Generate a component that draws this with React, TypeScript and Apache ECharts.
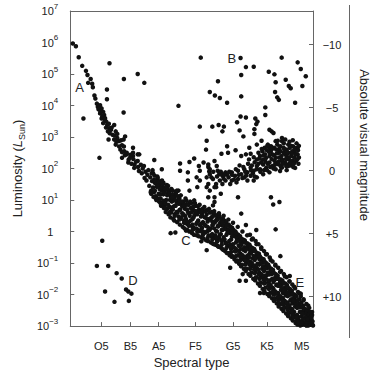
import React, { useEffect, useRef } from "react";
import * as echarts from "echarts";

// x: position along the spectral sequence (spectral index), y: log10(L / L_sun)
const spectralTickValues = [33, 64, 94, 133, 173, 209, 246];
const spectralTickLabels = ["O5", "B5", "A5", "F5", "G5", "K5", "M5"];
const logLumTicksMin = -3;
const logLumTicksMax = 7;
const magnitudeTicks = [-10, -5, 0, 5, 10];
const sunAbsMag = 4.83;

const upperMainSequence = [
  [2.7, 5.97], [6, 5.88], [9, 5.53], [12.7, 5.26], [16.7, 5.1], [18.3, 4.97], [21.7, 4.84], [19, 4.72], [23.3, 4.69], [24, 4.58], [25.7, 4.32], [26.7, 4.22],
  [28.3, 4.06], [31.7, 4.01], [29.3, 3.96], [33.3, 3.91], [35, 3.8], [31.7, 3.75], [36, 3.7], [33.3, 3.59], [36.7, 3.54], [38.3, 3.49], [39.3, 3.38], [35, 3.44],
  [41.7, 3.28], [43.3, 3.23], [46.7, 3.38], [40, 3.18], [45, 3.07], [48.3, 3.18], [50, 2.97], [46.7, 2.92], [51.7, 2.87], [48.3, 2.76], [55, 2.74], [53.3, 2.6],
  [57.3, 2.55], [58.3, 3.02], [56.7, 2.92], [60, 2.45], [63.3, 2.34], [55, 2.34], [66.7, 2.4], [61.7, 2.19], [68.3, 2.13], [71.7, 2.24], [73.3, 2.45], [66.7, 2.66], [78.3, 2.08],
  [30, 3.88], [32, 3.82], [34, 3.66], [37, 3.6], [38, 3.3], [41, 3.42], [42, 3.12], [44, 3.3], [47, 3.05], [49, 2.85], [50, 3.1], [52, 2.7], [54, 2.9], [55, 2.52], [57, 2.7], [58, 2.42],
  [60, 2.5], [62, 2.28], [64, 2.44], [65, 2.15], [67, 2.3], [68, 2.02], [70, 2.22], [72, 2.05], [73, 1.92], [75, 2.12], [76, 1.85], [77, 2.0], [79, 1.7], [80, 1.9], [81, 1.62], [82, 1.8],
];

const mainSequence = [
  [83, 1.95], [84, 1.45], [85, 1.72], [86, 1.3], [87, 1.6], [88, 1.85],
  [89, 1.25], [90, 1.55], [91, 1.12], [92, 1.42], [93, 1.7], [94, 1.2],
  [95, 1.48], [96, 1.05], [97, 1.3], [98, 0.92], [99, 1.18], [99, 1.55],
  [100, 0.85], [101, 1.32], [102, 1.0], [103, 0.72], [104, 1.22], [104, 1.45],
  [106, 0.78], [107, 1.1], [107, 0.6], [108, 0.95], [109, 1.3], [109, 0.7],
  [110, 1.05], [111, 0.55], [112, 0.82], [112, 1.2], [113, 0.62], [114, 0.95],
  [115, 0.48], [116, 1.05], [117, 0.7], [117, 0.4], [118, 0.88], [119, 0.58],
  [120, 0.95], [121, 0.35], [122, 0.72], [122, 0.5], [123, 0.85], [124, 0.25],
  [125, 0.62], [126, 0.88], [126, 0.3], [127, 0.5], [128, 0.75], [129, 0.18],
  [130, 0.4], [131, 0.68], [131, 0.12], [132, 0.52], [133, 0.82], [134, 0.25],
  [135, 0.55], [136, 0.05], [136, 0.35], [137, 0.7], [138, 0.2], [139, 0.48],
  [140, 0.12], [141, 0.62], [141, 0.3], [142, -0.05], [143, 0.45], [144, 0.18],
  [145, 0.55], [146, 0.02], [146, 0.32], [147, -0.12], [148, 0.4], [149, 0.1],
  [150, 0.45], [151, -0.08], [151, 0.2], [152, 0.58], [153, -0.2], [154, 0.3],
  [155, 0.02], [156, 0.4], [156, -0.25], [157, 0.18], [158, 0.52], [159, -0.1],
  [160, 0.3], [161, -0.3], [161, 0.05], [162, 0.42], [163, -0.18], [164, 0.15],
  [165, -0.35], [166, 0.25], [166, -0.1], [167, 0.05], [168, -0.45], [169, 0.18],
  [170, -0.05], [171, -0.55], [171, -0.25], [172, 0.12], [173, -0.4], [174, -0.12],
  [175, -0.62], [176, -0.08], [176, -0.35], [177, -0.2], [178, -0.75], [179, -0.45],
  [180, -0.2], [181, -0.7], [181, -0.4], [182, -0.88], [183, -0.3], [184, -0.58],
  [185, -0.82], [186, -0.35], [186, -0.62], [187, -1.0], [188, -0.48], [189, -0.75],
  [190, -0.5], [191, -0.95], [191, -0.68], [192, -1.12], [193, -0.6], [194, -0.85],
  [195, -1.1], [196, -0.62], [196, -0.9], [197, -1.28], [198, -0.75], [199, -1.02],
  [200, -0.8], [201, -1.3], [201, -1.05], [202, -1.45], [203, -0.9], [204, -1.18],
  [205, -1.45], [206, -0.95], [206, -1.25], [207, -1.62], [208, -1.08], [209, -1.38],
  [210, -1.15], [211, -1.6], [211, -1.35], [212, -1.8], [213, -1.25], [214, -1.52],
  [215, -1.78], [216, -1.3], [216, -1.6], [217, -1.98], [218, -1.45], [219, -1.7],
  [220, -1.5], [221, -1.95], [221, -1.72], [222, -2.15], [223, -1.6], [224, -1.85],
  [225, -2.1], [226, -1.65], [226, -1.95], [227, -2.3], [228, -1.78], [229, -2.02],
  [230, -1.8], [231, -2.25], [231, -2.05], [232, -2.45], [233, -1.9], [234, -2.18],
  [235, -2.45], [236, -2.0], [236, -2.28], [237, -2.62], [238, -2.1], [239, -2.38],
  [240, -2.2], [241, -2.65], [241, -2.42], [242, -2.8], [243, -2.3], [244, -2.55],
  [245, -2.85], [246, -2.4], [246, -2.68], [247, -2.95], [248, -2.5], [249, -2.75],
  [250, -2.6], [251, -2.95], [251, -2.82], [252, -2.7], [253, -2.98], [254, -2.88],
  [255, -2.96], [256, -2.8], [257, -2.92],
  [88, 1.4], [89, 1.65], [90, 1.3], [91, 1.52],
  [93, 1.45], [94, 1.05], [95, 1.35], [96, 1.18],
  [98, 1.4], [99, 0.98], [100, 1.25], [101, 0.9],
  [103, 1.15], [104, 0.85], [105, 1.28], [106, 1.0],
  [108, 0.7], [109, 1.05], [110, 0.8], [111, 1.12],
  [113, 0.92], [114, 0.6], [115, 1.0], [116, 0.68],
  [118, 0.45], [119, 0.8], [120, 0.55], [121, 0.85],
  [123, 0.4], [124, 0.7], [125, 0.3], [126, 0.58],
  [128, 0.35], [129, 0.62], [130, 0.22], [131, 0.45],
  [133, 0.58], [134, 0.1], [135, 0.3], [136, 0.62],
  [138, 0.02], [139, 0.25], [140, 0.52], [141, 0.0],
  [143, 0.22], [144, -0.02], [145, 0.42], [146, 0.15],
  [148, 0.05], [149, 0.38], [150, -0.15], [151, 0.32],
  [153, 0.1], [154, -0.12], [155, 0.35], [156, 0.0],
  [158, -0.2], [159, 0.25], [160, -0.08], [161, 0.2],
  [163, 0.2], [164, -0.25], [165, 0.08], [166, -0.38],
  [168, 0.05], [169, -0.3], [170, -0.42], [171, 0.0],
  [173, -0.05], [174, -0.5], [175, -0.15], [176, -0.55],
  [178, -0.18], [179, -0.62], [180, -0.3], [181, -0.55],
  [183, -0.75], [184, -0.32], [185, -0.5], [186, -0.8],
  [188, -0.9], [189, -0.45], [190, -0.82], [191, -0.58],
  [193, -1.0], [194, -0.62], [195, -0.78], [196, -1.08],
  [198, -1.15], [199, -0.8], [200, -1.2], [201, -0.88],
  [203, -1.35], [204, -0.98], [205, -1.1], [206, -1.4],
  [208, -1.5], [209, -1.12], [210, -1.3], [211, -1.55],
  [213, -1.7], [214, -1.35], [215, -1.5], [216, -1.82],
  [218, -1.9], [219, -1.5], [220, -1.68], [221, -2.0],
  [223, -2.05], [224, -1.7], [225, -1.8], [226, -2.12],
  [228, -2.2], [229, -1.85], [230, -1.95], [231, -2.3],
  [233, -2.35], [234, -2.0], [235, -2.15], [236, -2.48],
  [238, -2.55], [239, -2.2], [240, -2.3], [241, -2.68],
  [243, -2.72], [244, -2.4], [245, -2.55], [246, -2.85],
  [248, -2.9], [249, -2.6], [250, -2.72], [251, -2.98],
  [253, -2.8], [254, -2.95], [256, -2.7], [258, -2.98],
  [85.5, 1.25], [86.5, 1.85], [88.5, 1.1], [89.5, 1.78],
  [90.5, 1.62], [91.5, 1.0], [93.5, 1.58], [94.5, 0.95],
  [95.5, 1.6], [96.5, 0.82], [98.5, 1.5], [99.5, 0.75],
  [100.5, 1.38], [101.5, 0.62], [103.5, 1.35], [104.5, 0.55],
  [105.5, 1.2], [106.5, 0.45], [108.5, 1.18], [109.5, 0.4],
  [110.5, 0.35], [111.5, 1.0], [113.5, 0.3], [114.5, 1.12],
  [115.5, 0.88], [116.5, 0.22], [118.5, 0.95], [119.5, 0.15],
  [120.5, 0.8], [121.5, 0.1], [123.5, 0.98], [124.5, 0.05],
  [125.5, 0.85], [126.5, 0.0], [128.5, 0.9], [129.5, -0.05],
  [130.5, 0.78], [131.5, -0.1], [133.5, 0.65], [134.5, -0.12],
  [135.5, 0.8], [136.5, -0.15], [138.5, 0.62], [139.5, -0.18],
  [140.5, 0.72], [141.5, -0.22], [143.5, 0.65], [144.5, -0.28],
  [145.5, 0.68], [146.5, -0.3], [148.5, 0.6], [149.5, -0.35],
  [150.5, 0.62], [151.5, -0.38], [153.5, 0.55], [154.5, -0.42],
  [155.5, 0.5], [156.5, -0.45], [158.5, 0.48], [159.5, -0.5],
  [160.5, 0.4], [161.5, -0.55], [163.5, 0.35], [164.5, -0.62],
  [165.5, 0.3], [166.5, -0.68], [168.5, 0.22], [169.5, -0.75],
  [170.5, 0.15], [171.5, -0.8], [173.5, 0.05], [174.5, -0.88],
  [175.5, 0.0], [176.5, -0.95], [178.5, -0.1], [179.5, -1.02],
  [180.5, -0.15], [181.5, -1.1], [183.5, -0.25], [184.5, -1.18],
  [185.5, -0.28], [186.5, -1.25], [188.5, -0.38], [189.5, -1.35],
  [190.5, -0.42], [191.5, -1.4], [193.5, -0.52], [194.5, -1.5],
  [195.5, -0.55], [196.5, -1.55], [198.5, -0.68], [199.5, -1.65],
  [200.5, -0.7], [201.5, -1.72], [203.5, -0.85], [204.5, -1.82],
  [205.5, -0.88], [206.5, -1.9], [208.5, -1.0], [209.5, -1.98],
  [210.5, -1.05], [211.5, -2.05], [213.5, -1.18], [214.5, -2.12],
  [215.5, -1.22], [216.5, -2.2], [218.5, -1.35], [219.5, -2.28],
  [220.5, -1.4], [221.5, -2.38], [223.5, -1.52], [224.5, -2.45],
  [225.5, -1.55], [226.5, -2.52], [228.5, -1.65], [229.5, -2.6],
  [230.5, -1.7], [231.5, -2.68], [233.5, -1.82], [234.5, -2.75],
  [235.5, -1.88], [236.5, -2.82], [238.5, -2.0], [239.5, -2.9],
  [240.5, -2.05], [241.5, -2.95], [243.5, -2.15], [244.5, -2.98],
  [245.5, -2.25], [247.5, -2.35], [249.5, -2.45], [251.5, -2.55], [253.5, -2.62], [255.5, -2.75], [257.5, -2.85],
  [86, 1.2], [87.5, 1.95], [91, 1.05], [92.5, 1.75], [96, 0.9], [97.5, 1.62], [101, 0.75], [102.5, 1.48],
  [106, 0.62], [107.5, 1.35], [111, 0.5], [112.5, 1.25], [116, 0.38], [117.5, 1.15], [121, 0.28], [122.5, 1.05],
  [126, 0.18], [127.5, 0.95], [131, 0.08], [132.5, 0.9], [136, 0.0], [137.5, 0.85], [141, -0.1], [142.5, 0.78],
  [146, -0.2], [147.5, 0.72],
  [151, -0.25], [152.5, -0.4], [151.5, 0.48], [156, -0.32], [157.5, -0.48], [156.5, 0.38],
  [161, -0.42], [162.5, -0.58], [161.5, 0.3], [166, -0.52], [167.5, -0.68], [166.5, 0.18],
  [171, -0.65], [172.5, -0.78], [171.5, 0.08], [176, -0.78], [177.5, -0.92], [176.5, -0.05],
  [181, -0.9], [182.5, -1.05], [181.5, -0.22], [186, -1.05], [187.5, -1.18], [186.5, -0.35],
  [191, -1.18], [192.5, -1.3], [191.5, -0.48], [196, -1.32], [197.5, -1.45], [196.5, -0.62],
  [201, -1.5], [202.5, -1.62], [201.5, -0.78], [206, -1.65], [207.5, -1.78], [206.5, -0.95],
  [211, -1.82], [212.5, -1.95], [211.5, -1.12], [216, -2.0], [217.5, -2.12], [216.5, -1.32],
  [221, -2.18], [222.5, -2.3], [221.5, -1.5], [226, -2.32], [227.5, -2.42], [226.5, -1.62],
  [231, -2.48], [232.5, -2.58], [231.5, -1.78], [236, -2.65], [237.5, -2.72], [236.5, -1.98],
  [241, -2.82], [242.5, -2.88], [241.5, -2.18], [246, -2.95], [247.5, -2.78], [246.5, -2.38],
  [251, -2.9], [252.5, -2.5], [254.5, -2.6],
  [150.5, -0.1], [152, 0.24], [153, 0.65], [155.5, -0.18], [157, 0.16], [158, 0.58],
  [160.5, -0.28], [162, 0.06], [163, 0.5], [165.5, -0.38], [167, -0.04], [168, 0.38],
  [170.5, -0.5], [172, -0.16], [173, 0.28], [175.5, -0.63], [177, -0.28], [178, 0.15],
  [180.5, -0.78], [182, -0.42], [183, 0.0], [185.5, -0.92], [187, -0.56], [188, -0.12],
  [190.5, -1.05], [192, -0.7], [193, -0.25], [195.5, -1.2], [197, -0.84], [198, -0.4],
  [200.5, -1.36], [202, -1.0], [203, -0.55], [205.5, -1.53], [207, -1.18], [208, -0.72],
  [210.5, -1.7], [212, -1.36], [213, -0.9], [215.5, -1.9], [217, -1.54], [218, -1.08],
  [220.5, -2.08], [222, -1.72], [223, -1.28], [225.5, -2.22], [227, -1.88], [228, -1.42],
  [230.5, -2.38], [232, -2.02], [233, -1.58], [235.5, -2.55], [237, -2.2], [238, -1.75],
  [240.5, -2.72], [242, -2.4], [243, -1.95], [245.5, -2.9], [247, -2.6], [248, -2.15],
  [250.5, -2.97], [252, -2.78], [253, -2.35], [255, -2.55], [257, -2.65],
  [191, -0.1], [194, -0.22], [197, -0.3], [200, -0.4], [203, -0.5], [206, -0.62], [209, -0.72], [212, -0.82],
  [215, -0.95], [218, -1.05], [221, -1.15], [224, -1.25], [227, -1.35], [230, -1.45], [233, -1.58], [236, -1.68],
  [239, -1.8], [242, -1.92], [245, -2.05], [248, -2.18], [251, -2.3], [254, -2.42], [257, -2.55],
];

const mainSequenceOutliers = [
  [41.7, 5.34], [57, 4.84], [71.7, 5.0], [78.7, 4.72], [39, 4.51], [39, 4.2], [14, 3.59], [56.7, 3.78], [40.7, 2.92], [31, 2.34], [89.3, 2.27],
  [180, -1.56], [186.7, -1.56], [201.7, -1.95], [205.7, -1.95], [170, -1.15], [183.3, -1.35], [218.3, 0.07], [181.7, 0.57], [186.7, 0.21],
  [197.7, 0.05], [223.3, -0.78], [233.3, -1.41], [245, -1.97], [256.7, -2.87], [106.7, -0.05], [111.7, -0.03], [123, 0.03], [130, 0.06],
  [135, 0.0], [140, 0.0], [139.3, -0.31], [145, -0.59],
];

const supergiants = [
  [181, 5.51], [186.7, 5.22], [195, 5.23], [181.7, 4.97], [211, 5.07], [217, 4.99], [224.7, 5.52], [241.7, 5.37], [245, 5.16], [250.3, 4.93],
  [246.7, 4.62], [157, 4.77], [148.3, 4.43], [153.7, 4.32], [159, 4.24], [166.7, 4.09], [181.7, 4.29], [218.3, 4.74], [217.7, 4.43], [220, 4.26],
  [221.7, 4.18], [229, 4.82], [232.3, 4.62], [234.3, 4.55], [239, 4.09], [207.3, 3.94], [207.3, 3.7], [181, 3.65], [186.7, 3.62], [177.3, 3.47],
  [196.7, 3.59], [199, 3.49], [197.7, 3.41], [211.7, 3.23], [214, 3.18], [216, 3.13], [151, 3.33], [157.7, 3.38], [161.7, 3.18], [163.3, 3.33],
  [180, 3.21], [184, 3.02], [195.7, 3.25], [195.7, 3.1], [145, 2.88], [144.3, 2.6], [166.7, 2.71], [175.7, 2.58], [190.3, 2.66], [160.7, 2.47],
  [167.7, 2.5], [225, 2.97], [203.3, 2.88], [198.3, 2.76], [137.7, 3.33], [138.7, 5.52], [115, 3.99],
];

const giants = [
  [181.7, 2.4], [186.7, 2.45], [191.7, 2.47], [195, 2.36], [200, 2.5], [204.3, 2.55], [206.7, 2.66], [210, 2.76], [213.3, 2.71], [216.7, 2.66],
  [220, 2.76], [223.3, 2.71], [226.7, 2.66], [230, 2.6], [233.3, 2.66], [238.3, 2.55], [240, 2.45], [241.7, 2.66], [235, 2.4], [228.3, 2.45],
  [221.7, 2.5], [215, 2.45], [211.7, 2.4], [208.3, 2.34], [205, 2.29], [198.3, 2.29], [190, 2.29], [225, 2.87], [231.7, 2.76], [236.7, 2.71],
  [218.3, 2.87], [211.7, 2.66], [201.7, 2.4], [230, 2.4], [236.7, 2.24], [241.7, 2.45], [231.7, 2.29], [225, 2.29], [218.3, 2.34],
  [158.3, 1.82], [161.7, 1.77], [165, 1.88], [168.3, 1.72], [171.7, 1.88], [175, 1.77], [178.3, 1.93], [181.7, 1.82], [185, 1.98], [188.3, 1.88],
  [191.7, 2.03], [195, 1.93], [198.3, 2.08], [201.7, 1.98], [205, 2.13], [208.3, 2.03], [211.7, 2.19], [215, 2.08], [218.3, 2.19], [221.7, 2.13],
  [225, 2.24], [228.3, 2.19], [231.7, 2.13], [235, 2.24], [165, 1.62], [171.7, 1.62], [178.3, 1.67], [185, 1.72], [191.7, 1.77], [198.3, 1.72],
  [205, 1.82], [211.7, 1.88], [218.3, 1.98], [225, 2.03], [231.7, 2.08], [238.3, 2.19], [170, 1.51], [176.7, 1.56], [151.7, 1.67], [155, 1.51],
  [148.3, 1.82], [161.7, 1.51], [188.3, 1.62], [195, 1.62],
  [203, 2.2], [207, 2.45], [210, 2.15], [213, 2.55], [217, 2.25], [219, 2.6], [222, 2.35], [224, 2.05], [227, 2.5], [229, 2.3], [232, 2.5],
  [234, 2.1], [236, 2.55], [238, 2.35], [240, 2.25], [242, 2.58], [239, 2.02], [233, 2.85], [227, 2.8], [222, 2.62], [214, 2.3], [209, 2.58],
  [206, 1.95], [200, 2.15], [196, 2.2], [193, 2.1], [189, 2.15], [184, 2.05], [180, 2.1], [176, 1.98], [172, 1.8], [167, 1.8], [163, 1.68],
  [159, 1.62], [187, 1.78], [194, 1.85], [202, 1.9], [209, 1.95], [216, 2.0], [223, 1.92], [230, 1.95], [237, 2.05], [243, 2.35],
  [201, 2.32], [203.5, 2.62], [205.5, 2.42], [207.5, 2.22], [209.5, 2.72], [211.5, 2.52], [212.5, 2.05], [214.5, 2.62], [216.5, 2.42], [217.5, 2.12],
  [219.5, 2.48], [220.5, 2.88], [221.5, 2.22], [223.5, 2.55], [224.5, 2.4], [226, 2.15], [227.5, 2.62], [228.5, 2.92], [229.5, 2.08], [230.5, 2.52],
  [232.5, 2.35], [233.5, 2.18], [234.5, 2.72], [235.5, 2.48], [236.5, 2.9], [237.5, 2.15], [238.5, 2.65], [239.5, 2.45], [240.5, 2.8], [241.5, 2.3],
  [242.5, 2.15], [243, 2.72], [198, 1.98], [196, 1.75], [192, 1.95], [186, 1.9], [183, 1.7], [179, 1.8], [174, 1.65], [169, 1.9], [164, 1.8],
  [160, 1.9], [156, 1.75], [152, 1.9],
];

const subgiants = [
  [116.7, 2.16], [126.7, 2.21], [131.7, 2.32], [116.7, 1.93], [125, 1.88], [136.7, 2.08], [137.7, 1.93], [141.7, 2.19], [146.7, 2.05], [147.7, 1.91],
  [153.3, 2.24], [155.7, 2.08], [156.7, 1.93], [125, 1.62], [134.3, 1.72], [137.7, 1.62], [145, 1.72], [161.7, 1.82], [97.3, 1.98], [66.7, 2.5],
  [71.7, 2.45], [115, 1.3], [126.7, 1.3], [135, 1.41], [145, 1.41], [155, 1.41], [146.7, 1.09], [131.7, 0.99], [153.3, 0.94], [101.7, 1.35],
  [108.3, 1.09], [113.3, 1.3], [146.7, 2.13], [148.3, 1.98], [150, 1.72], [146.7, 1.51], [153.3, 1.41], [148.3, 1.3], [153.3, 1.09], [160, 1.2],
  [178.3, 1.09], [213.3, 1.09], [215.7, 0.86], [222.3, 0.94], [151.7, 0.83],
];

const whiteDwarfs = [
  [34, -0.29], [28.3, -1.09], [40.3, -1.09], [49.3, -1.32], [54.7, -1.49], [37, -1.9], [59.3, -1.84], [61.7, -1.9], [65, -1.97], [47, -2.23], [62.3, -2.2],
];

const regionLabels = [
  ["A", 10, 4.56],
  ["B", 171.7, 5.49],
  ["C", 123, -0.28],
  ["D", 66.7, -1.56],
  ["E", 244, -1.63],
];

const FONT = "'Liberation Sans', Arial, Helvetica, sans-serif";
const TEXT = "#222";
const AXIS = "#666";

export default function App() {
  const ref = useRef<HTMLDivElement>(null);
  useEffect(() => {
    document.body.style.margin = "0";
    const chart = echarts.init(ref.current!, null, { renderer: "svg" });
    const dotSeries = (name: string, data: number[][]) => ({
      name,
      type: "scatter",
      xAxisIndex: 0,
      yAxisIndex: 0,
      data,
      symbol: "circle",
      symbolSize: 4.5,
      itemStyle: { color: "#111", opacity: 1 },
      silent: true,
    });
    const magTop = sunAbsMag - 2.5 * logLumTicksMax;
    const magBottom = sunAbsMag - 2.5 * logLumTicksMin;
    chart.setOption({
      animation: false,
      textStyle: { fontFamily: FONT },
      grid: { left: 55, top: 11, width: 258, height: 320, containLabel: false },
      xAxis: [
        {
          type: "value",
          min: 0,
          max: 258,
          position: "bottom",
          axisLine: { show: true, onZero: false, lineStyle: { color: AXIS, width: 1 } },
          axisTick: { show: true, inside: true, length: 4, customValues: spectralTickValues, lineStyle: { color: AXIS } },
          axisLabel: {
            show: true,
            customValues: spectralTickValues,
            formatter: (v: number) => {
              const i = spectralTickValues.indexOf(Math.round(v));
              return i >= 0 ? spectralTickLabels[i] : "";
            },
            fontSize: 11,
            color: TEXT,
            margin: 14,
            fontFamily: FONT,
          },
          splitLine: { show: false },
          name: "Spectral type",
          nameLocation: "middle",
          nameGap: 29,
          nameTextStyle: { fontSize: 13, color: TEXT, fontFamily: FONT },
        },
        {
          type: "value",
          min: 0,
          max: 258,
          position: "top",
          axisLine: { show: true, onZero: false, lineStyle: { color: AXIS, width: 1 } },
          axisTick: { show: false },
          axisLabel: { show: false },
          splitLine: { show: false },
        },
      ],
      yAxis: [
        {
          type: "value",
          min: logLumTicksMin,
          max: logLumTicksMax,
          interval: 1,
          position: "left",
          axisLine: { show: true, onZero: false, lineStyle: { color: AXIS, width: 1 } },
          axisTick: { show: true, inside: true, length: 4, lineStyle: { color: AXIS } },
          axisLabel: {
            show: true,
            margin: 12,
            color: TEXT,
            fontFamily: FONT,
            formatter: (v: number) => {
              const e = Math.round(v);
              if (e === 0) return "{b|1}{p|}";
              return `{b|10}{s|${e < 0 ? "\u2212" + -e : e}}`;
            },
            rich: {
              b: { fontSize: 11, lineHeight: 18, color: TEXT, fontFamily: FONT },
              s: { fontSize: 8, lineHeight: 8, verticalAlign: "top", color: TEXT, fontFamily: FONT },
              p: { width: 5 },
            },
          },
          splitLine: { show: false },
          name: "Luminosity ({i|L}{u|Sun})",
          nameLocation: "middle",
          nameGap: 41,
          nameTextStyle: {
            fontSize: 13,
            color: TEXT,
            fontFamily: FONT,
            lineHeight: 18,
            rich: {
              i: { fontSize: 13, fontStyle: "italic", lineHeight: 18, color: TEXT, fontFamily: FONT },
              u: { fontSize: 9, lineHeight: 9, verticalAlign: "bottom", color: TEXT, fontFamily: FONT },
            },
          },
        },
        {
          type: "value",
          min: magTop,
          max: magBottom,
          inverse: true,
          position: "right",
          axisLine: { show: true, onZero: false, lineStyle: { color: AXIS, width: 1 } },
          axisTick: { show: true, inside: true, length: 4, customValues: magnitudeTicks, lineStyle: { color: AXIS } },
          axisLabel: {
            show: true,
            customValues: magnitudeTicks,
            align: "center",
            margin: 19,
            fontSize: 11,
            color: TEXT,
            fontFamily: FONT,
            formatter: (v: number) => {
              const m = Math.round(v);
              if (m < 0) return "\u2212" + -m;
              if (m > 0) return "+" + m;
              return "0";
            },
          },
          splitLine: { show: false },
        },
      ],
      graphic: [
        { type: "line", shape: { x1: 349.5, y1: 5, x2: 349.5, y2: 338 }, style: { stroke: AXIS, lineWidth: 1 }, silent: true },
        {
          type: "text",
          x: 364,
          y: 145,
          rotation: -Math.PI / 2,
          style: { text: "Absolute visual magnitude", fontSize: 13, fill: TEXT, fontFamily: FONT, align: "center", verticalAlign: "middle" },
          silent: true,
        },
      ],
      series: [
        dotSeries("upperMainSequence", upperMainSequence),
        dotSeries("mainSequence", mainSequence),
        dotSeries("mainSequenceOutliers", mainSequenceOutliers),
        dotSeries("subgiants", subgiants),
        dotSeries("giants", giants),
        dotSeries("supergiants", supergiants),
        dotSeries("whiteDwarfs", whiteDwarfs),
        {
          name: "regions",
          type: "scatter",
          xAxisIndex: 0,
          yAxisIndex: 0,
          data: regionLabels.map(([n, x, y]) => ({ value: [x, y], name: n })),
          symbolSize: 1,
          itemStyle: { color: "rgba(0,0,0,0)", opacity: 1 },
          label: {
            show: true,
            position: "inside",
            formatter: (p: any) => p.name,
            fontSize: 13,
            color: TEXT,
            textBorderWidth: 0,
            fontFamily: FONT,
          },
          silent: true,
          z: 5,
        },
      ],
    });
    return () => chart.dispose();
  }, []);
  return <div ref={ref} style={{ width: 370, height: 374 }} />;
}
